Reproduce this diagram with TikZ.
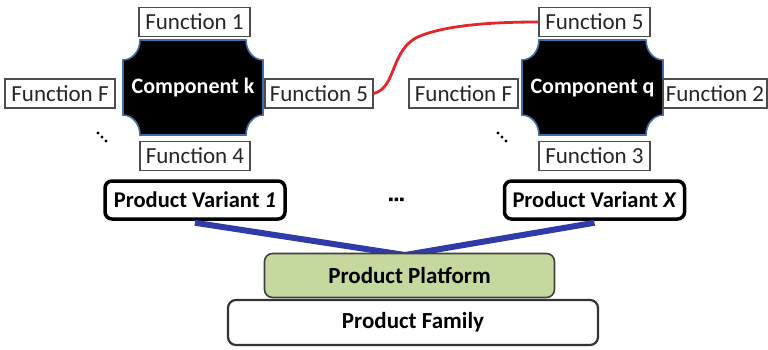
\documentclass[tikz,border=0pt]{standalone}
\usepackage{fontspec}
\setmainfont{Carlito}
\begin{document}
\begin{tikzpicture}[x=1pt,y=-1pt,
  every node/.style={font=\fontsize{23}{27}\selectfont},
  fnbox/.style={draw=black!70, line width=1.2pt, fill=white, inner sep=0pt,
    minimum height=29pt, text=black!85},
  variant/.style={draw=black, line width=3.5pt, rounded corners=7pt, fill=white,
    inner sep=0pt, minimum width=180pt, minimum height=38pt, font=\fontsize{22.5}{27}\selectfont\bfseries},
  compname/.style={text=white, inner sep=0pt, font=\fontsize{22}{26}\selectfont\bfseries},
  plaque/.style={fill=black, draw=compblue, line width=1.6pt},
  tie/.style={draw=tiered, line width=2.8pt},
  stem/.style={draw=stemblue, line width=6pt},
  dotmark/.style={fill=black}
]
\definecolor{compblue}{HTML}{3F6FA6}
\definecolor{tiered}{HTML}{E3262A}
\definecolor{stemblue}{HTML}{2F3BA6}
\definecolor{platgreen}{HTML}{C5D89D}
\useasboundingbox (0,0) rectangle (768,349);

% concave-cornered component plaque: #1,#2 = left,top ; #3,#4 = right,bottom
\newcommand{\plaquepath}[4]{%
  \path[plaque] (#1+17,#2) -- (#3-17,#2)
    .. controls (#3-17,#2+11) and (#3-9.4,#2+20) .. (#3,#2+20)
    -- (#3,#4-20)
    .. controls (#3-9.4,#4-20) and (#3-17,#4-11) .. (#3-17,#4)
    -- (#1+17,#4)
    .. controls (#1+17,#4-11) and (#1+9.4,#4-20) .. (#1,#4-20)
    -- (#1,#2+20)
    .. controls (#1+9.4,#2+20) and (#1+17,#2+11) .. (#1+17,#2) -- cycle;}

% ---- component k ----
\plaquepath{123}{40}{263}{135}
\node[compname] (ck) at (193,88) {Component k};
\node[fnbox, minimum width=111pt] (k1) at (194.5,22) {Function 1};
\node[fnbox, minimum width=110pt] (kf) at (60,93.5) {Function F};
\node[fnbox, minimum width=108pt] (k5) at (319,93.5) {Function 5};
\node[fnbox, minimum width=110pt] (k4) at (195,156) {Function 4};
\fill[dotmark] (98,133) circle (1.6) (102,137) circle (1.6) (106,141) circle (1.6);

% ---- component q ----
\plaquepath{522}{40}{663}{135}
\node[compname] (cq) at (592.5,88) {Component q};
\node[fnbox, minimum width=111pt] (q5) at (594.5,22) {Function 5};
\node[fnbox, minimum width=109pt] (qf) at (463.5,93.5) {Function F};
\node[fnbox, minimum width=104pt] (q2) at (715,93.5) {Function 2};
\node[fnbox, minimum width=111pt] (q3) at (594.5,156) {Function 3};
\fill[dotmark] (498,133) circle (1.6) (502,137) circle (1.6) (506,141) circle (1.6);

% shared function link
\draw[tie] (k5.east) .. controls (397,88) and (390,48) .. (420,36)
  .. controls (450,24) and (500,22) .. (q5.west);

% ---- variants ----
\node[variant] (pv1) at (195,200) {Product Variant \textit{1}};
\node[variant] (pvx) at (594.5,200) {Product Variant \textit{X}};
\fill[dotmark] (389,197.5) rectangle (392.5,201) (394.5,197.5) rectangle (398,201)
  (400,197.5) rectangle (403.5,201);

% ---- platform and family ----
\coordinate (apex) at (405,255);
\draw[stem] ([yshift=-2pt]pv1.south) -- (apex) -- ([yshift=-2pt]pvx.south);
\node[draw=black!80, line width=2.2pt, rounded corners=8pt, fill=white,
  minimum width=370pt, minimum height=45pt, inner sep=0pt,
  font=\fontsize{23}{27}\selectfont\bfseries] (fam) at (413,322.5) {Product Family};
\node[draw=black!75, line width=1.6pt, rounded corners=8pt, fill=platgreen,
  minimum width=290pt, minimum height=44pt, inner sep=0pt,
  font=\fontsize{23}{27}\selectfont\bfseries] (plat) at (409.5,275.5) {Product Platform};
\end{tikzpicture}
\end{document}
